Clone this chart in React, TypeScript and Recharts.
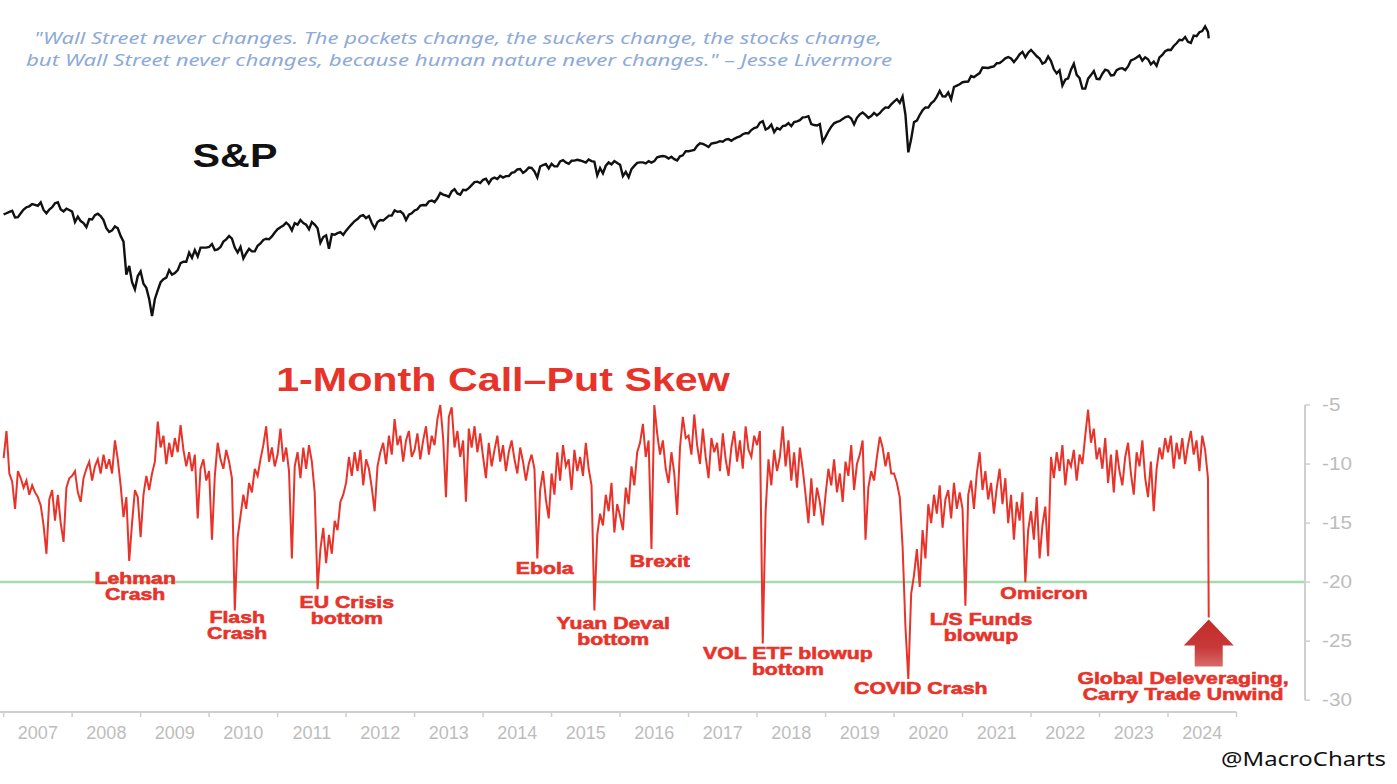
import React from 'react';
import { ComposedChart, Line, XAxis, YAxis, ReferenceLine, ReferenceDot } from 'recharts';

// ---------- categories ----------
const YEARS = [2007, 2008, 2009, 2010, 2011, 2012, 2013, 2014, 2015, 2016, 2017, 2018, 2019, 2020, 2021, 2022, 2023, 2024];
const STEPS_PER_YEAR = 24; // values on the 1st and 16th of each month
const YEAR_TICKS = [2007, 2008, 2009, 2010, 2011, 2012, 2013, 2014, 2015, 2016, 2017, 2018, 2019, 2020, 2021, 2022, 2023, 2024, 2025];
const SKEW_TICKS = [-30, -25, -20, -15, -10, -5];
const THRESHOLD = -20;

// ---------- S&P 500 (semi-monthly) ----------
const sp2007 = [1418, 1430, 1445, 1456, 1387, 1390, 1430, 1470, 1495, 1505, 1530, 1520, 1510, 1550, 1465, 1430, 1470, 1495, 1540, 1550, 1470, 1450, 1480, 1465];
const sp2008 = [1447, 1340, 1395, 1350, 1330, 1290, 1370, 1365, 1410, 1425, 1400, 1360, 1280, 1245, 1260, 1298, 1280, 1210, 1160, 910, 970, 860, 816, 900];
const sp2009 = [931, 850, 825, 760, 670, 760, 810, 860, 880, 890, 940, 910, 920, 940, 990, 1000, 1000, 1070, 1030, 1090, 1040, 1110, 1110, 1110];
const sp2010 = [1115, 1140, 1090, 1095, 1115, 1160, 1180, 1210, 1186, 1110, 1070, 1115, 1025, 1065, 1100, 1080, 1080, 1125, 1145, 1175, 1185, 1180, 1205, 1240];
const sp2011 = [1271, 1290, 1305, 1335, 1310, 1260, 1330, 1315, 1360, 1330, 1315, 1270, 1340, 1315, 1280, 1150, 1200, 1215, 1100, 1225, 1220, 1235, 1245, 1220];
const sp2012 = [1258, 1290, 1320, 1350, 1370, 1400, 1410, 1380, 1400, 1330, 1280, 1340, 1360, 1355, 1380, 1405, 1405, 1460, 1445, 1450, 1425, 1360, 1415, 1430];
const sp2013 = [1460, 1472, 1513, 1520, 1518, 1560, 1570, 1552, 1597, 1660, 1640, 1630, 1614, 1680, 1706, 1655, 1640, 1700, 1695, 1721, 1760, 1798, 1805, 1786];
const sp2014 = [1830, 1845, 1782, 1840, 1860, 1840, 1885, 1860, 1880, 1880, 1925, 1937, 1975, 1980, 1925, 1955, 2003, 1998, 1946, 1862, 2018, 2040, 2055, 1990];
const sp2015 = [2058, 2020, 2020, 2096, 2115, 2080, 2060, 2105, 2108, 2120, 2110, 2095, 2077, 2125, 2100, 2090, 1890, 1995, 1920, 2030, 2080, 2050, 2100, 2070];
const sp2016 = [2044, 1880, 1940, 1865, 1980, 2027, 2072, 2080, 2080, 2066, 2100, 2077, 2100, 2160, 2173, 2180, 2170, 2140, 2168, 2130, 2110, 2176, 2191, 2260];
const sp2017 = [2258, 2270, 2280, 2350, 2395, 2385, 2360, 2330, 2390, 2400, 2410, 2433, 2423, 2460, 2470, 2440, 2475, 2500, 2520, 2560, 2580, 2580, 2640, 2680];
const sp2018 = [2695, 2790, 2820, 2650, 2680, 2750, 2600, 2680, 2650, 2720, 2730, 2780, 2720, 2800, 2815, 2840, 2900, 2905, 2925, 2760, 2740, 2730, 2760, 2420];
const sp2019 = [2510, 2616, 2706, 2775, 2803, 2822, 2867, 2907, 2923, 2876, 2752, 2890, 2964, 3004, 2953, 2888, 2926, 2997, 2940, 2990, 3066, 3120, 3113, 3191];
const sp2020 = [3258, 3316, 3225, 3380, 2954, 2240, 2470, 2800, 2830, 2950, 3055, 3120, 3115, 3215, 3270, 3380, 3526, 3385, 3380, 3483, 3310, 3626, 3662, 3701];
const sp2021 = [3756, 3768, 3774, 3932, 3901, 3963, 4019, 4185, 4181, 4173, 4202, 4223, 4320, 4327, 4395, 4479, 4524, 4473, 4357, 4471, 4613, 4700, 4513, 4668];
const sp2022 = [4766, 4660, 4546, 4475, 4306, 4357, 4545, 4392, 4131, 4008, 4101, 3666, 3825, 3863, 4118, 4305, 3966, 3873, 3585, 3583, 3856, 3958, 4076, 3852];
const sp2023 = [3839, 3999, 4119, 4090, 3951, 3960, 4109, 4151, 4167, 4109, 4221, 4409, 4450, 4505, 4576, 4404, 4515, 4450, 4288, 4373, 4237, 4508, 4594, 4719];
const sp2024 = [4770, 4766, 4906, 5005, 5137, 5117, 5243, 5061, 5018, 5297, 5277, 5431, 5475, 5667, 5446];

// ---------- 1-Month Call-Put Skew (semi-monthly) ----------
const skew2007 = [-9.5, -7.2, -10.8, -11.5, -13.8, -10.6, -11.2, -12.0, -11.4, -12.6, -11.8, -12.4, -12.8, -13.5, -15.2, -17.6, -13.0, -12.2, -14.8, -12.6, -15.0, -16.6, -12.0, -11.2];
const skew2008 = [-11.0, -10.6, -12.4, -13.2, -11.2, -10.4, -9.8, -11.4, -10.2, -9.6, -10.8, -9.2, -10.4, -9.6, -10.8, -8.0, -9.6, -11.8, -14.5, -12.8, -18.2, -15.0, -12.2, -12.8];
const skew2009 = [-16.2, -12.6, -11.0, -12.2, -10.8, -9.8, -6.4, -8.6, -7.6, -10.0, -8.2, -9.4, -7.8, -9.0, -6.7, -8.8, -10.2, -9.0, -10.6, -9.2, -14.6, -10.4, -9.6, -11.4];
const skew2010 = [-10.6, -16.4, -11.0, -8.2, -9.6, -10.4, -8.8, -9.8, -11.2, -22.4, -16.2, -14.4, -12.6, -13.8, -11.6, -12.4, -10.4, -11.0, -9.6, -8.4, -6.8, -9.8, -8.6, -10.2];
const skew2011 = [-9.2, -7.0, -9.8, -8.6, -10.6, -18.0, -10.2, -9.0, -11.2, -8.6, -10.4, -8.4, -9.8, -12.4, -20.6, -17.2, -15.4, -18.4, -16.0, -17.6, -14.8, -15.6, -13.2, -12.6];
const skew2012 = [-11.6, -9.4, -11.0, -9.0, -10.6, -8.8, -11.8, -9.6, -10.4, -12.0, -14.0, -10.2, -9.0, -8.2, -10.0, -7.6, -9.2, -6.2, -8.4, -7.6, -9.8, -8.0, -7.2, -9.4];
const skew2013 = [-8.8, -7.4, -9.6, -8.0, -6.8, -9.2, -7.6, -8.4, -6.2, -5.0, -7.8, -12.8, -6.0, -5.2, -8.6, -7.2, -9.4, -8.0, -13.2, -7.0, -8.6, -6.8, -9.0, -7.4];
const skew2014 = [-9.4, -11.2, -8.2, -10.2, -8.8, -7.6, -9.8, -8.4, -10.6, -9.0, -8.0, -9.6, -10.8, -8.6, -9.8, -11.4, -10.0, -9.2, -10.4, -18.0, -12.2, -10.6, -13.0, -14.6];
const skew2015 = [-10.8, -12.6, -9.0, -11.4, -8.4, -10.2, -9.6, -12.2, -8.8, -10.6, -9.4, -11.0, -8.2, -10.4, -11.8, -22.4, -16.0, -14.2, -15.2, -12.6, -14.0, -11.6, -15.8, -13.4];
const skew2016 = [-14.4, -15.6, -12.0, -13.4, -10.2, -11.8, -9.0, -8.2, -6.6, -9.4, -8.0, -17.2, -5.0, -7.4, -9.2, -8.0, -10.4, -11.6, -9.0, -10.8, -14.3, -8.6, -6.0, -7.8];
const skew2017 = [-7.6, -9.2, -5.8, -8.4, -10.0, -7.0, -9.4, -11.2, -7.8, -9.0, -8.2, -10.6, -7.4, -9.6, -11.0, -8.6, -7.2, -9.8, -8.0, -10.4, -6.8, -8.8, -9.4, -7.6];
const skew2018 = [-8.4, -7.2, -25.2, -14.0, -9.6, -11.8, -8.8, -10.6, -9.4, -6.8, -10.2, -8.0, -11.4, -9.0, -12.0, -8.6, -10.4, -12.6, -15.0, -11.2, -14.4, -12.0, -13.2, -15.2];
const skew2019 = [-12.6, -10.4, -11.8, -9.6, -12.4, -10.8, -13.2, -9.8, -11.0, -8.4, -12.2, -10.0, -9.2, -8.0, -16.4, -12.0, -10.6, -11.4, -9.4, -7.7, -8.6, -10.2, -9.0, -10.8];
const skew2020 = [-10.8, -11.6, -12.8, -17.0, -23.8, -28.2, -21.0, -19.4, -17.2, -20.4, -15.6, -18.0, -13.4, -15.0, -12.6, -14.2, -11.8, -15.4, -13.0, -12.2, -14.6, -11.6, -13.8, -12.4];
const skew2021 = [-13.8, -22.0, -12.6, -11.4, -13.8, -10.8, -9.0, -12.2, -10.6, -13.0, -11.6, -14.2, -12.0, -10.4, -13.4, -11.2, -15.0, -12.6, -16.4, -13.2, -14.8, -12.4, -20.0, -15.6];
const skew2022 = [-14.0, -16.4, -12.8, -18.0, -15.2, -13.6, -17.8, -9.4, -11.2, -9.0, -10.6, -8.4, -11.8, -9.6, -10.2, -8.8, -11.4, -9.2, -10.0, -7.6, -5.4, -8.2, -7.0, -9.6];
const skew2023 = [-8.6, -10.4, -7.8, -11.6, -9.2, -12.4, -8.8, -10.6, -11.8, -9.4, -8.2, -10.8, -12.6, -9.0, -10.2, -8.0, -11.2, -12.8, -9.8, -14.0, -10.4, -8.6, -9.6, -7.8];
const skew2024 = [-9.0, -7.6, -10.4, -8.2, -9.6, -7.8, -10.0, -8.4, -7.2, -9.2, -8.0, -10.6, -7.6, -8.8, -11.2];

// last observation (Aug 5, 2024)
const LAST_DATE = '2024-08-05';
const LAST_SP = 5186;
const LAST_SKEW = -23.0;

// annotations: x as decimal year, y in skew units (first line baseline), text lines
const annotations: { t: number; v: number; lines: string[] }[] = [
  { t: 2008.92, v: -20.2, lines: ['Lehman', 'Crash'] },
  { t: 2010.41, v: -23.5, lines: ['Flash', 'Crash'] },
  { t: 2012.01, v: -22.2, lines: ['EU Crisis', 'bottom'] },
  { t: 2014.90, v: -19.3, lines: ['Ebola'] },
  { t: 2016.58, v: -18.7, lines: ['Brexit'] },
  { t: 2015.90, v: -24.0, lines: ['Yuan Deval', 'bottom'] },
  { t: 2018.45, v: -26.5, lines: ['VOL ETF blowup', 'bottom'] },
  { t: 2020.39, v: -29.5, lines: ['COVID Crash'] },
  { t: 2021.27, v: -23.6, lines: ['L/S Funds', 'blowup'] },
  { t: 2022.19, v: -21.4, lines: ['Omicron'] },
  { t: 2024.22, v: -28.6, lines: ['Global Deleveraging,', 'Carry Trade Unwind'] },
];

const spByYear = [sp2007, sp2008, sp2009, sp2010, sp2011, sp2012, sp2013, sp2014, sp2015, sp2016, sp2017, sp2018, sp2019, sp2020, sp2021, sp2022, sp2023, sp2024];
const skewByYear = [skew2007, skew2008, skew2009, skew2010, skew2011, skew2012, skew2013, skew2014, skew2015, skew2016, skew2017, skew2018, skew2019, skew2020, skew2021, skew2022, skew2023, skew2024];

const toYear = (d: string) => {
  const [y, m, dd] = d.split('-').map(Number);
  return y + (m - 1) / 12 + (dd - 1) / 365;
};

const data: { t: number; sp: number; skew: number }[] = [];
YEARS.forEach((y, yi) => {
  spByYear[yi].forEach((v, i) => {
    data.push({ t: y + i / STEPS_PER_YEAR, sp: v, skew: skewByYear[yi][i] });
  });
});
data.push({ t: toYear(LAST_DATE), sp: LAST_SP, skew: LAST_SKEW });

// ---------- layout & style ----------
const W = 1397;
const H = 784;
const X_AXIS_H = 72;
const Y_AXIS_W = 92;
const X_DOMAIN: [number, number] = [2006.947, 2026];
const SP_DOMAIN: [number, number] = [36.2, 6886];
const SKEW_DOMAIN: [number, number] = [-31, 29.3];
const PLOT_W = W - Y_AXIS_W;
const HALF_YEAR_PX = PLOT_W / (X_DOMAIN[1] - X_DOMAIN[0]) / 2;

const RED = '#e8332a';
const AXIS_GRAY = '#cfcfcf';
const LABEL_GRAY = '#bdbdbd';
const FONT = '"Liberation Sans", Arial, sans-serif';
const STRETCH = 1.25;

const XTick = (props: any) => {
  const { x, y, payload } = props;
  if (payload.value >= 2025) return <g />;
  return (
    <text x={x + HALF_YEAR_PX} y={y + 20} textAnchor="middle" fill={LABEL_GRAY} fontSize={18} fontFamily={FONT}>
      {payload.value}
    </text>
  );
};

const YTick = (props: any) => {
  const { x, y, payload } = props;
  return (
    <g transform={`translate(${x + 2},${y}) scale(1.15,1)`}>
      <text x={0} y={6} textAnchor="start" fill={LABEL_GRAY} fontSize={18} fontFamily={FONT}>
        {payload.value}
      </text>
    </g>
  );
};

const AnnText = ({ cx, cy, lines }: { cx: number; cy: number; lines: string[] }) => (
  <g transform={`translate(${cx},${cy}) scale(${STRETCH},1)`}>
    {lines.map((l, i) => (
      <text
        key={i}
        x={0}
        y={i * 16}
        textAnchor="middle"
        fill={RED}
        stroke={RED}
        strokeWidth={0.6}
        fontSize={17}
        fontWeight="bold"
        fontFamily={FONT}
      >
        {l}
      </text>
    ))}
  </g>
);

const Arrow = ({ cx, cy }: { cx: number; cy: number }) => (
  <g transform={`translate(${cx},${cy + 2})`}>
    <defs>
      <linearGradient id="arrowGrad" x1="0" y1="0" x2="0" y2="1">
        <stop offset="0%" stopColor="#c22d27" />
        <stop offset="60%" stopColor="#c8393a" />
        <stop offset="100%" stopColor="#d86a6a" />
      </linearGradient>
    </defs>
    <polygon points="0,0 25,26 14,26 14,47 -14,47 -14,26 -25,26" fill="url(#arrowGrad)" />
  </g>
);

export default function App() {
  return (
    <div style={{ position: 'absolute', left: 0, top: 0, width: W, height: H, background: '#fff' }}>
      <ComposedChart width={W} height={H} data={data} margin={{ top: 0, right: 0, bottom: 0, left: 0 }}>
        <XAxis
          type="number"
          dataKey="t"
          xAxisId="x"
          domain={X_DOMAIN}
          allowDataOverflow
          ticks={YEAR_TICKS}
          interval={0}
          height={X_AXIS_H}
          axisLine={false}
          tickLine={{ stroke: AXIS_GRAY, strokeWidth: 1.5 }}
          tickSize={5}
          tick={(p: any) => <XTick {...p} />}
        />
        <YAxis yAxisId="sp" scale="log" domain={SP_DOMAIN} allowDataOverflow hide />
        <YAxis
          yAxisId="skew"
          orientation="right"
          domain={SKEW_DOMAIN}
          allowDataOverflow
          ticks={SKEW_TICKS}
          interval={0}
          width={Y_AXIS_W}
          axisLine={false}
          tickLine={{ stroke: AXIS_GRAY, strokeWidth: 1.5 }}
          tickSize={5}
          tickMargin={10}
          tick={(p: any) => <YTick {...p} />}
        />
        <ReferenceLine xAxisId="x" yAxisId="skew" y={THRESHOLD} stroke="#a6dbb0" strokeWidth={2.5} />
        <ReferenceLine
          xAxisId="x"
          yAxisId="skew"
          segment={[{ x: X_DOMAIN[0], y: SKEW_DOMAIN[0] }, { x: 2025, y: SKEW_DOMAIN[0] }]}
          stroke={AXIS_GRAY}
          strokeWidth={2}
        />
        <ReferenceLine
          xAxisId="x"
          yAxisId="skew"
          segment={[{ x: X_DOMAIN[1], y: -5 }, { x: X_DOMAIN[1], y: -30 }]}
          stroke={AXIS_GRAY}
          strokeWidth={2}
        />
        <Line
          xAxisId="x"
          yAxisId="sp"
          dataKey="sp"
          type="linear"
          stroke="#111"
          strokeWidth={2.4}
          dot={false}
          activeDot={false}
          isAnimationActive={false}
        />
        <Line
          xAxisId="x"
          yAxisId="skew"
          dataKey="skew"
          type="linear"
          stroke={RED}
          strokeWidth={2}
          strokeLinejoin="miter"
          dot={false}
          activeDot={false}
          isAnimationActive={false}
        />
        {annotations.map((a, i) => (
          <ReferenceDot
            key={i}
            xAxisId="x"
            yAxisId="skew"
            x={a.t}
            y={a.v}
            r={2}
            ifOverflow="visible"
            shape={(p: any) => <AnnText cx={p.cx} cy={p.cy} lines={a.lines} />}
          />
        ))}
        <ReferenceDot
          xAxisId="x"
          yAxisId="skew"
          x={toYear(LAST_DATE)}
          y={LAST_SKEW}
          r={2}
          ifOverflow="visible"
          shape={(p: any) => <Arrow cx={p.cx} cy={p.cy} />}
        />
      </ComposedChart>
      <svg width={W} height={H} style={{ position: 'absolute', left: 0, top: 0, pointerEvents: 'none' }}>
        <text x={458} y={44} textAnchor="middle" fill="#8eaad8" fontSize={16} fontStyle="italic" fontFamily='"Noto Sans", sans-serif' textLength={848} lengthAdjust="spacingAndGlyphs">
          "Wall Street never changes. The pockets change, the suckers change, the stocks change,
        </text>
        <text x={459} y={66} textAnchor="middle" fill="#8eaad8" fontSize={16} fontStyle="italic" fontFamily='"Noto Sans", sans-serif' textLength={866} lengthAdjust="spacingAndGlyphs">
          but Wall Street never changes, because human nature never changes." – Jesse Livermore
        </text>
        <g transform={`translate(235,167) scale(${STRETCH},1)`}>
          <text x={0} y={0} textAnchor="middle" fill="#111" fontSize={33} fontWeight="bold" fontFamily={FONT}>S&amp;P</text>
        </g>
        <g transform={`translate(503,391) scale(${STRETCH},1)`}>
          <text x={0} y={0} textAnchor="middle" fill={RED} fontSize={33} fontWeight="bold" fontFamily={FONT}>1-Month Call–Put Skew</text>
        </g>
        <text x={1221} y={766} fill="#111" fontSize={20} fontFamily='"Noto Sans", sans-serif' textLength={165} lengthAdjust="spacingAndGlyphs">
          @MacroCharts
        </text>
      </svg>
    </div>
  );
}
